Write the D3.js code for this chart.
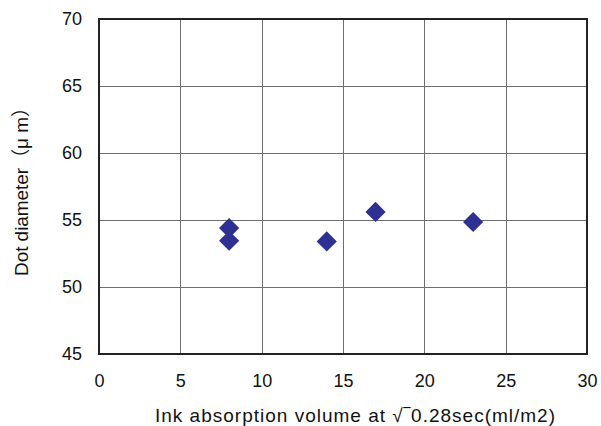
<!DOCTYPE html>
<html><head><meta charset="utf-8">
<script src="https://cdn.jsdelivr.net/npm/d3@7"></script>
<style>body{margin:0;background:#fff}svg{display:block}</style>
</head><body>
<script>
const xValues = [8, 8, 14, 17, 23];
const yValues = [54.4, 53.45, 53.4, 55.6, 54.85];
const xTicks = [0, 5, 10, 15, 20, 25, 30];
const yTicks = [45, 50, 55, 60, 65, 70];
const xTitle = "Ink absorption volume at √‾0.28sec(ml/m2)";
const yTitle = "Dot diameter（μ m）";

const W = 601, H = 426;
const m = {left: 99, top: 19, right: 587, bottom: 354};
const svg = d3.select("body").append("svg").attr("width", W).attr("height", H);
const x = d3.scaleLinear().domain([0, 30]).range([m.left, m.right]);
const y = d3.scaleLinear().domain([45, 70]).range([m.bottom, m.top]);

// grid
svg.append("g").selectAll("line").data(xTicks.slice(1, -1)).join("line")
  .attr("x1", d => Math.round(x(d)) + 0.5).attr("x2", d => Math.round(x(d)) + 0.5)
  .attr("y1", m.top).attr("y2", m.bottom).attr("stroke", "#6e6e6e").attr("stroke-width", 1);
svg.append("g").selectAll("line").data(yTicks.slice(1, -1)).join("line")
  .attr("y1", d => Math.round(y(d)) + 0.5).attr("y2", d => Math.round(y(d)) + 0.5)
  .attr("x1", m.left).attr("x2", m.right).attr("stroke", "#6e6e6e").attr("stroke-width", 1);

// frame
svg.append("rect").attr("x", m.left).attr("y", m.top)
  .attr("width", m.right - m.left).attr("height", m.bottom - m.top)
  .attr("fill", "none").attr("stroke", "#222").attr("stroke-width", 2);

// axes labels via d3 axes
const xAxis = svg.append("g").attr("transform", `translate(0,${m.bottom})`)
  .call(d3.axisBottom(x).tickValues(xTicks).tickSize(0).tickPadding(20).tickFormat(d3.format("d")));
const yAxis = svg.append("g").attr("transform", `translate(${m.left},0)`)
  .call(d3.axisLeft(y).tickValues(yTicks).tickSize(0).tickPadding(17).tickFormat(d3.format("d")));
[xAxis, yAxis].forEach(a => {
  a.select(".domain").remove();
  a.selectAll("text").attr("font-family", "'Liberation Sans', Arial, sans-serif")
    .attr("font-size", 18).attr("fill", "#111");
});

// points
const diamond = d3.symbol().type(d3.symbolDiamond2).size(260);
svg.append("g").selectAll("path").data(xValues.map((d, i) => [d, yValues[i]])).join("path")
  .attr("d", diamond)
  .attr("transform", d => `translate(${x(d[0])},${y(d[1])})`)
  .attr("fill", "#2e3192");

// titles
svg.append("text").attr("x", 155).attr("y", 422)
  .attr("textLength", 400).attr("lengthAdjust", "spacing")
  .attr("font-family", "'Liberation Sans', 'Noto Sans CJK JP', sans-serif")
  .attr("font-size", 19).attr("fill", "#111").text(xTitle);
svg.append("text").attr("transform", `translate(28,276) rotate(-90)`)
  .attr("textLength", 178).attr("lengthAdjust", "spacing")
  .attr("font-family", "'Liberation Sans', 'Noto Sans CJK JP', sans-serif")
  .attr("font-size", 19).attr("fill", "#111").text(yTitle);
</script>
</body></html>
